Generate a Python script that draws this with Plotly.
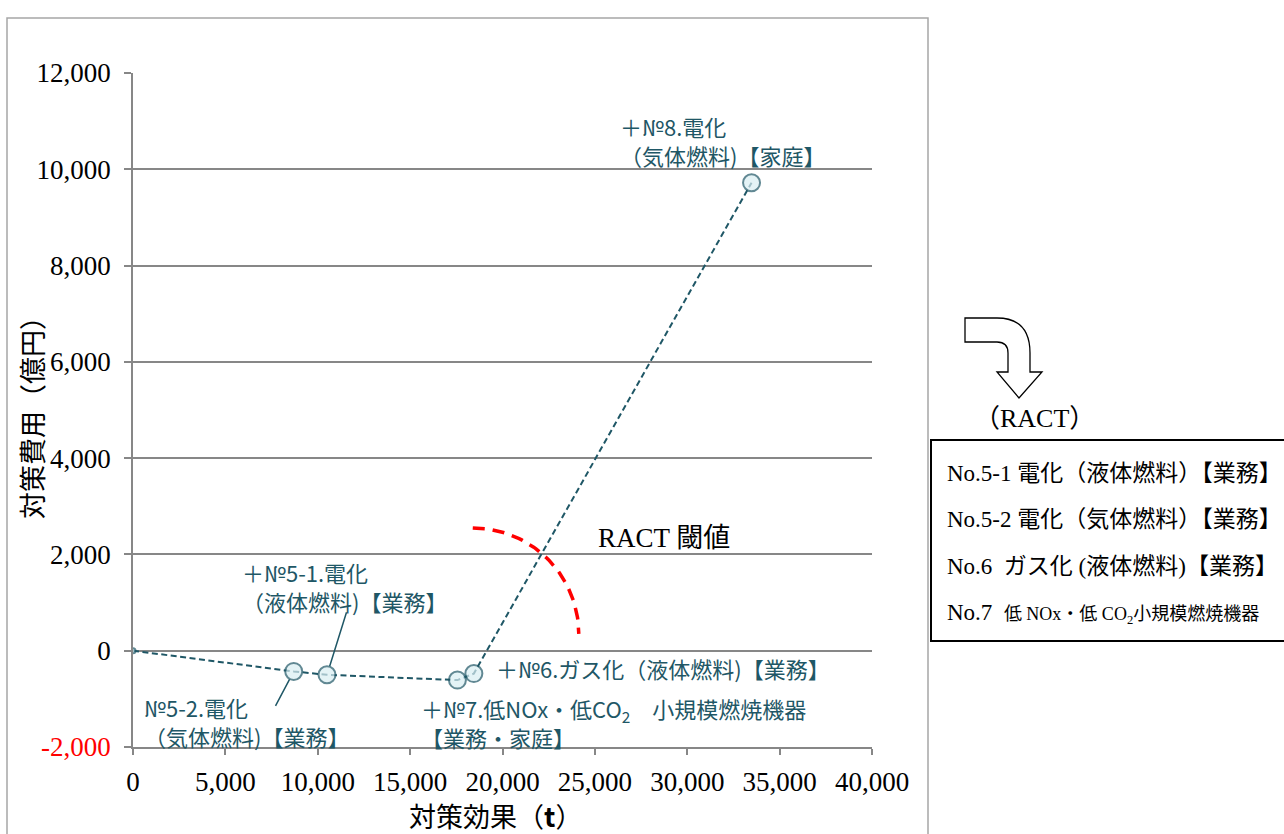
import numpy as np
import plotly.graph_objects as go

# 対策ごとの累積 対策効果 (t) と 対策費用 (億円)
measures = ["起点", "No.5-2", "No.5-1", "No.7", "No.6", "No.8"]
effect_t = [0, 8700, 10500, 17560, 18450, 33480]
cost_oku = [0, -430, -500, -610, -475, 9720]

x_ticks = [0, 5000, 10000, 15000, 20000, 25000, 30000, 35000, 40000]
y_ticks = [-2000, 0, 2000, 4000, 6000, 8000, 10000, 12000]
y_tick_text = ['<span style="color:#ff0000">-2,000</span>', "0", "2,000", "4,000",
               "6,000", "8,000", "10,000", "12,000"]

legend_lines = [
    "No.5-1 電化（液体燃料）【業務】",
    "No.5-2 電化（気体燃料）【業務】",
    "No.6  ガス化 (液体燃料)【業務】",
    "No.7  <span style=\"font-size:18px\">低 NOx・低 CO<sub>2</sub>小規模燃焼機器</span>",
]

W, H = 1284, 834
L, R, T, B = 133, 412, 73, 87
PW, PH = W - L - R, H - T - B

TEAL = "#1F5766"
FILL = "#DAEEF3"
GRID = "#878787"
SERIF = "Liberation Serif, Noto Sans CJK JP, serif"
GOTHIC = "Noto Sans CJK JP, sans-serif"


def fx(x):
    """pixel x -> paper x"""
    return (x - L) / PW


def fy(y):
    """pixel y -> paper y"""
    return (H - B - y) / PH


fig = go.Figure()

# 費用効果曲線
fig.add_trace(go.Scatter(
    x=effect_t, y=cost_oku, mode="lines+markers",
    line=dict(color=TEAL, width=2, dash="6px,3.5px"),
    marker=dict(size=[5, 17, 17, 17, 17, 17], color=FILL,
                line=dict(color=TEAL, width=2)),
    text=measures, hoverinfo="text+x+y", showlegend=False,
))

# RACT 閾値の目安(赤破線の弧)
arc_cx, arc_cy, arc_rx, arc_ry = 18390, 350, 5740, 2200
t = np.linspace(np.pi / 2, 0, 60)
fig.add_trace(go.Scatter(
    x=arc_cx + arc_rx * np.cos(t), y=arc_cy + arc_ry * np.sin(t),
    mode="lines", line=dict(color="#FF0000", width=3.5, dash="12px,8px"),
    hoverinfo="skip", showlegend=False,
))

shapes = [
    # 外枠
    dict(type="rect", xref="paper", yref="paper", x0=fx(7), x1=fx(928),
         y0=fy(18), y1=fy(850), line=dict(color="#A6A6A6", width=1.5), layer="below"),
    # RACT 対象リストの枠
    dict(type="rect", xref="paper", yref="paper", x0=fx(931), x1=fx(1300),
         y0=fy(440), y1=fy(641), line=dict(color="#000000", width=2)),
]

# 曲がり矢印
arrow_pts = ("M {a} {b} L {c} {b} Q {d} {b} {d} {e} L {d} {f} L {g} {f} L {h} {i} "
             "L {c} {f} L {j} {f} L {j} {e} Q {j} {k} {c} {k} L {a} {k} Z").format(
    a=fx(965), b=fy(318), c=fx(997), d=fx(1030), e=fy(353), f=fy(372),
    g=fx(1042), h=fx(1019), i=fy(398), j=fx(1008), k=fy(342))
shapes.append(dict(type="path", xref="paper", yref="paper", path=arrow_pts,
                   fillcolor="white", line=dict(color="#000000", width=1.3)))

annotations = []


def label(text, x, y, size=22, color=TEAL, font=GOTHIC, anchor="left"):
    annotations.append(dict(
        text=text, xref="paper", yref="paper", x=fx(x), y=fy(y),
        xanchor=anchor, yanchor="middle", align="left", showarrow=False,
        font=dict(family=font, size=size, color=color)))


label("＋№5-1.電化<br>（液体燃料)【業務】", 240, 586)
label("№5-2.電化<br>（気体燃料)【業務】", 142, 721)
label("＋№6.ガス化（液体燃料)【業務】", 494, 668)
label("＋№7.低NOx・低CO<sub>2</sub>　小規模燃焼機器<br>【業務・家庭】", 419, 722)
label("＋№8.電化<br>（気体燃料)【家庭】", 618, 140)
label("RACT 閾値", 596, 538, size=27, color="#000000", font=SERIF)

# 引出線
for i, (ax, ay) in [(2, (20, -64)), (1, (-19, 36))]:
    annotations.append(dict(
        x=effect_t[i], y=cost_oku[i], xref="x", yref="y", text="",
        showarrow=True, arrowhead=0, arrowwidth=1.5, arrowcolor=TEAL,
        ax=ax, ay=ay, standoff=9))

# 軸タイトル
label("対策効果（<b>t</b>）", 495, 815, size=27, color="#000000", anchor="center")
annotations.append(dict(
    text="対策費用（億円）", xref="paper", yref="paper", x=fx(31), y=fy(411),
    textangle=-90, showarrow=False, xanchor="center", yanchor="middle",
    font=dict(family=GOTHIC, size=27, color="#000000")))

# 右側の RACT 対象リスト
label("（RACT）", 1034, 418, size=26, color="#000000", font=SERIF, anchor="center")
for k, line in enumerate(legend_lines):
    label(line, 945, 473 + k * 46.7, size=23, color="#000000", font=SERIF)

tick_font = dict(family="Liberation Serif", size=27, color="#000000")
fig.update_layout(
    width=W, height=H, margin=dict(l=L, r=R, t=T, b=B, autoexpand=False),
    paper_bgcolor="white", plot_bgcolor="white",
    shapes=shapes, annotations=annotations,
    xaxis=dict(range=[0, 40000], tickvals=x_ticks, tickformat=",", showgrid=False,
               zeroline=False, showline=True, linecolor=GRID, linewidth=1.5,
               ticks="outside", ticklen=6, tickcolor=GRID, tickwidth=1.5,
               ticklabelstandoff=4, tickfont=tick_font),
    yaxis=dict(range=[-2000, 12000], tickvals=y_ticks, ticktext=y_tick_text,
               showgrid=True, gridcolor=GRID, gridwidth=1.5, zeroline=False,
               showline=True, linecolor=GRID, linewidth=1.5,
               ticks="outside", ticklen=7, tickcolor=GRID, tickwidth=1.5,
               ticklabelstandoff=8, tickfont=tick_font),
)

fig.write_html("out.html")
